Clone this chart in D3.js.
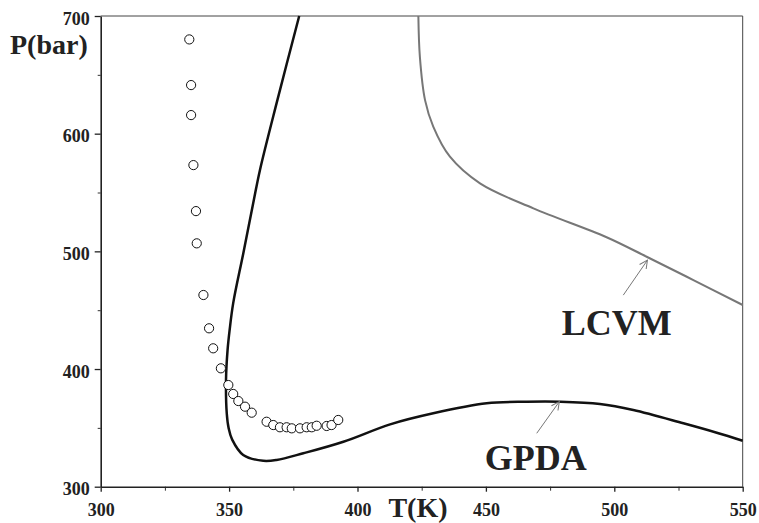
<!DOCTYPE html>
<html>
<head>
<meta charset="utf-8">
<script src="https://cdn.jsdelivr.net/npm/d3@7"></script>
<style>
  body { margin: 0; background: #fff; }
  svg text { font-family: "Liberation Serif", "DejaVu Serif", serif; font-weight: bold; fill: #222; }
</style>
</head>
<body>
<div id="chart"></div>
<script>
// P-T diagram: measured points and two model curves

const xTicks = [300, 350, 400, 450, 500, 550];
const yTicks = [300, 400, 500, 600, 700];

// experimental points (T in K, P in bar)
const expT = [334.5, 335.2, 335.2, 336.1, 337.1, 337.4, 340.0, 342.2, 343.8, 346.8, 349.7, 351.6, 353.6, 356.2, 358.8,
              364.6, 367.2, 369.8, 372.4, 374.4, 377.6, 380.2, 382.2, 384.1, 388.0, 389.9, 392.5];
const expP = [680.1, 641.3, 615.8, 573.3, 534.2, 506.8, 462.9, 434.6, 417.6, 400.6, 386.4, 378.8, 372.8, 368.0, 362.9,
              355.2, 352.4, 350.5, 350.5, 349.6, 349.6, 350.5, 350.5, 351.8, 351.6, 352.4, 356.7];

// GPDA curve
const gpdaT = [377.3, 368.8, 362.0, 359.4, 355.5, 351.6, 350.2, 349.4, 348.8, 349.1, 349.8, 351.2, 355.5, 363.3, 368.5,
               378.9, 394.5, 412.7, 429.5, 450.3, 465.9, 478.9, 494.4, 507.4, 526.9, 539.9, 550.0];
const gpdaP = [700, 628.5, 569, 541, 498, 456, 433, 416, 391, 362, 350, 340, 327, 322, 322.7,
               328.4, 338.2, 353, 362.4, 370.9, 372.2, 372.2, 370.3, 365.2, 353.9, 345.9, 339.1];

// LCVM curve
const lcvmT = [423.7, 424.3, 426.3, 429.5, 436.0, 447.7, 468.5, 497.0, 512.6, 530.8, 550.0];
const lcvmP = [700, 665, 628.5, 606, 580.4, 557.8, 536.5, 512, 495.4, 475.6, 454.4];

// labels with arrows: text start point, arrow tail, arrow head
const labels = [
  { name: 'LCVM', t: 479.5, p: 428.9, from: [503.5, 462.8], to: [512.9, 492.5] },
  { name: 'GPDA', t: 449.6, p: 314.2, from: [469.8, 345.4], to: [478.6, 372.3] }
];

const width = 759, height = 523;
const margin = { top: 16, right: 16.3, bottom: 36.3, left: 100.7 };

const svg = d3.select('#chart').append('svg')
  .attr('width', width)
  .attr('height', height);

const x = d3.scaleLinear().domain([300, 550]).range([margin.left, width - margin.right]);
const y = d3.scaleLinear().domain([300, 700]).range([height - margin.bottom, margin.top]);

// frame (top and right)
svg.append('path')
  .attr('d', `M${x(300)},${y(700)}H${x(550)}V${y(300)}`)
  .attr('fill', 'none')
  .attr('stroke', '#444')
  .attr('stroke-width', 1);

// minor ticks
svg.append('g')
  .attr('transform', `translate(0,${y(300)})`)
  .call(d3.axisBottom(x).tickValues(d3.range(325, 550, 50)).tickSize(4).tickFormat(''))
  .call(g => g.select('.domain').remove())
  .call(g => g.selectAll('line').attr('stroke', '#333'));
svg.append('g')
  .attr('transform', `translate(${x(300)},0)`)
  .call(d3.axisLeft(y).tickValues(d3.range(350, 700, 100)).tickSize(3).tickFormat(''))
  .call(g => g.select('.domain').remove())
  .call(g => g.selectAll('line').attr('stroke', '#333'));

// major axes
const xAxis = svg.append('g')
  .attr('transform', `translate(0,${y(300)})`)
  .call(d3.axisBottom(x).tickValues(xTicks).tickSize(5).tickSizeOuter(0).tickPadding(12));
const yAxis = svg.append('g')
  .attr('transform', `translate(${x(300)},0)`)
  .call(d3.axisLeft(y).tickValues(yTicks).tickSize(6).tickSizeOuter(0).tickPadding(5));

[xAxis, yAxis].forEach(a => {
  a.select('.domain').attr('stroke', '#222').attr('stroke-width', 1.6);
  a.selectAll('line').attr('stroke', '#222').attr('stroke-width', 1.3);
  a.selectAll('text')
    .style('font-family', '"Liberation Serif", serif')
    .style('font-weight', 'bold')
    .style('font-size', '18px')
    .attr('fill', '#222');
});
yAxis.selectAll('text').attr('dy', '0.45em');

// axis titles
svg.append('text')
  .attr('x', 10).attr('y', 54)
  .style('font-size', '28px')
  .text('P(bar)');
svg.append('text')
  .attr('x', 418).attr('y', 517)
  .attr('text-anchor', 'middle')
  .style('font-size', '28px')
  .text('T(K)');

const line = d3.line()
  .x(d => x(d[0]))
  .y(d => y(d[1]))
  .curve(d3.curveCatmullRom.alpha(0.5));

svg.append('path')
  .datum(lcvmT.map((t, i) => [t, lcvmP[i]]))
  .attr('d', line)
  .attr('fill', 'none')
  .attr('stroke', '#777')
  .attr('stroke-width', 2);

svg.append('path')
  .datum(gpdaT.map((t, i) => [t, gpdaP[i]]))
  .attr('d', line)
  .attr('fill', 'none')
  .attr('stroke', '#111')
  .attr('stroke-width', 2.5);

// experimental circles
svg.append('g')
  .selectAll('circle')
  .data(expT.map((t, i) => [t, expP[i]]))
  .enter().append('circle')
  .attr('cx', d => x(d[0]))
  .attr('cy', d => y(d[1]))
  .attr('r', 4.6)
  .attr('fill', '#fff')
  .attr('stroke', '#111')
  .attr('stroke-width', 1);

// arrowhead
svg.append('defs').append('marker')
  .attr('id', 'head')
  .attr('viewBox', '0 0 10 10')
  .attr('refX', 9).attr('refY', 5)
  .attr('markerWidth', 10).attr('markerHeight', 10)
  .attr('markerUnits', 'userSpaceOnUse')
  .attr('orient', 'auto')
  .append('path')
  .attr('d', 'M1,1L9,5L1,9')
  .attr('fill', 'none')
  .attr('stroke', '#777')
  .attr('stroke-width', 1);

labels.forEach(l => {
  svg.append('line')
    .attr('x1', x(l.from[0])).attr('y1', y(l.from[1]))
    .attr('x2', x(l.to[0])).attr('y2', y(l.to[1]))
    .attr('stroke', '#777')
    .attr('stroke-width', 1)
    .attr('marker-end', 'url(#head)');
  svg.append('text')
    .attr('x', x(l.t)).attr('y', y(l.p))
    .style('font-size', '36px')
    .text(l.name);
});
</script>
</body>
</html>
